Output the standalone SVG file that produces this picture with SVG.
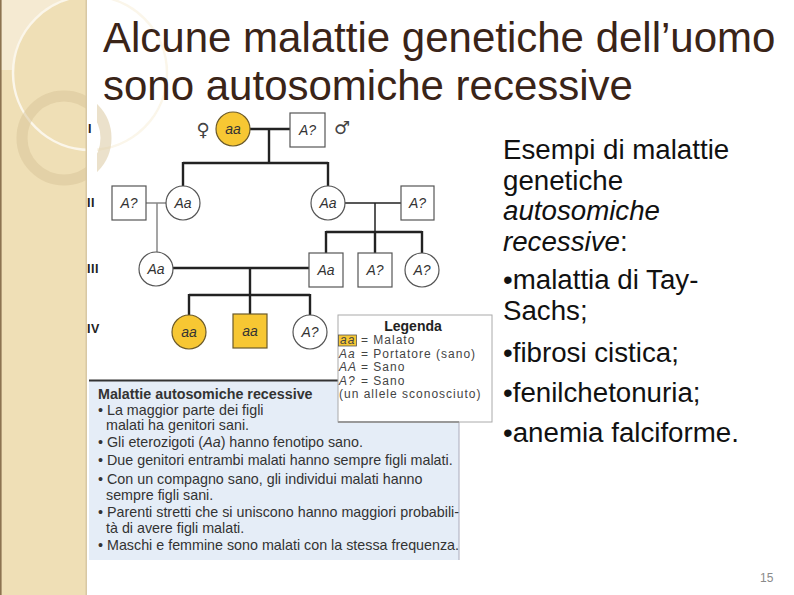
<svg xmlns="http://www.w3.org/2000/svg" width="794" height="595" viewBox="0 0 794 595">
<style>
.sans{font-family:"Liberation Sans",Arial,sans-serif}
.title{font-family:"Liberation Sans",Arial,sans-serif;font-size:42px;fill:#3a2418}
.body{font-family:"Liberation Sans",Arial,sans-serif;font-size:27.7px;fill:#111}
.nd{fill:#fff;stroke:#555;stroke-width:1.2}
.ill{fill:#f7c733;stroke:#6b5a2a;stroke-width:1.2}
.lab{font-family:"Liberation Sans",Arial,sans-serif;font-style:italic;font-size:14px;fill:#333;text-anchor:middle}
.gen{font-family:"Liberation Sans",Arial,sans-serif;font-weight:bold;font-size:12.5px;fill:#222;letter-spacing:0.5px}
.thick{stroke:#222;stroke-width:2.4;fill:none}
.thin{stroke:#222;stroke-width:1.5;fill:none}
.grey{stroke:#888;stroke-width:1.5;fill:none}
.leg{font-family:"Liberation Sans",Arial,sans-serif;font-size:12px;fill:#444;letter-spacing:1px}
.box{font-family:"Liberation Sans",Arial,sans-serif;font-size:14.3px;fill:#333}
</style>
<rect width="794" height="595" fill="#fff"/>
<!-- left decorative band -->
<g id="band">
<rect x="0" y="0" width="87" height="595" fill="#efdfb6"/>
<path d="M0,0 H66 A77,77 0 0 0 13,70 H0 Z" fill="#f5ead2"/>
<path d="M66,0 A77,77 0 0 0 13,70" fill="none" stroke="#d9c6a0" stroke-width="0.8"/>
<circle cx="90" cy="73" r="77" fill="none" stroke="#fbf6ea" stroke-width="2.5"/>
<circle cx="64" cy="138" r="42" fill="none" stroke="#d8c398" stroke-opacity="0.5" stroke-width="11"/>
<rect x="87" y="0" width="10" height="595" fill="#fff"/>
<rect x="0" y="0" width="1.6" height="595" fill="#8c7350"/>
<rect x="85.5" y="0" width="1.5" height="595" fill="#d8c8a4"/>
</g>
<!-- title -->
<text class="title" x="103" y="52">Alcune malattie genetiche dell’uomo</text>
<text class="title" x="103" y="100">sono autosomiche recessive</text>
<!-- generation labels -->
<text class="gen" x="88" y="133">I</text>
<text class="gen" x="87" y="207">II</text>
<text class="gen" x="87" y="273">III</text>
<text class="gen" x="87" y="333">IV</text>
<!-- connectors -->
<g id="connectors">
<path class="thick" d="M250,129 H290"/>
<path class="thick" d="M269,129 V163"/>
<path class="thick" d="M183,163 H328 M183,162 V186 M328,162 V186"/>
<path class="grey" d="M146,203 H166 M157,203 V253"/>
<path class="thin" d="M345,203 H401 M375,203 V232"/>
<path class="thick" d="M326,232 H422 M326,231 V253 M375,231 V253 M422,231 V253"/>
<path class="thick" d="M173,268 H309"/>
<path class="thick" d="M250,268 V295"/>
<path class="thick" d="M189,295 H310 M189,294 V315 M250,294 V314 M310,294 V315"/>
</g>
<!-- generation I -->
<g id="I-1"><circle class="ill" cx="233" cy="129" r="17"/><text class="lab" x="233" y="134">aa</text></g>
<g id="I-2"><rect class="nd" x="290" y="113" width="35" height="34"/><text class="lab" x="307.5" y="135">A?</text></g>
<text x="203" y="136" font-family="DejaVu Sans,sans-serif" font-size="18" fill="#444" text-anchor="middle">♀</text>
<text x="342" y="134" font-family="DejaVu Sans,sans-serif" font-size="18" fill="#444" text-anchor="middle">♂</text>
<!-- generation II -->
<g id="II-1"><rect class="nd" x="112" y="186" width="34" height="34"/><text class="lab" x="129" y="208">A?</text></g>
<g id="II-2"><circle class="nd" cx="183" cy="203" r="17"/><text class="lab" x="183" y="208">Aa</text></g>
<g id="II-3"><circle class="nd" cx="328" cy="203" r="17"/><text class="lab" x="328" y="208">Aa</text></g>
<g id="II-4"><rect class="nd" x="401" y="186" width="33" height="34"/><text class="lab" x="417.5" y="208">A?</text></g>
<!-- generation III -->
<g id="III-1"><circle class="nd" cx="156" cy="269" r="17"/><text class="lab" x="156" y="274">Aa</text></g>
<g id="III-2"><rect class="nd" x="309" y="253" width="34" height="34"/><text class="lab" x="326" y="275">Aa</text></g>
<g id="III-3"><rect class="nd" x="358" y="253" width="34" height="34"/><text class="lab" x="375" y="275">A?</text></g>
<g id="III-4"><circle class="nd" cx="422" cy="270" r="17"/><text class="lab" x="422" y="275">A?</text></g>
<!-- generation IV -->
<g id="IV-1"><circle class="ill" cx="189" cy="332" r="17"/><text class="lab" x="189" y="337">aa</text></g>
<g id="IV-2"><rect class="ill" x="233" y="314" width="34" height="34"/><text class="lab" x="250" y="336">aa</text></g>
<g id="IV-3"><circle class="nd" cx="310" cy="332" r="17"/><text class="lab" x="310" y="337">A?</text></g>
<!-- info box -->
<g id="infobox">
<rect x="89" y="380" width="370" height="180" fill="#e5edf7"/>
<path d="M89,380.5 H338" stroke="#333" stroke-width="2"/>
<path d="M459,421 V560" stroke="#aab" stroke-width="1"/>
<text class="box" x="98" y="398.5" font-weight="bold" fill="#222" font-size="14px">Malattie autosomiche recessive</text>
<text class="box" x="98" y="415">• La maggior parte dei figli</text>
<text class="box" x="106" y="430">malati ha genitori sani.</text>
<text class="box" x="98" y="447">• Gli eterozigoti (<tspan font-style="italic">Aa</tspan>) hanno fenotipo sano.</text>
<text class="box" x="98" y="465">• Due genitori entrambi malati hanno sempre figli malati.</text>
<text class="box" x="98" y="484">• Con un compagno sano, gli individui malati hanno</text>
<text class="box" x="106" y="500">sempre figli sani.</text>
<text class="box" x="98" y="517">• Parenti stretti che si uniscono hanno maggiori probabili-</text>
<text class="box" x="106" y="533">tà di avere figli malati.</text>
<text class="box" x="98" y="550">• Maschi e femmine sono malati con la stessa frequenza.</text>
</g>
<!-- legend -->
<g id="legend">
<rect x="338" y="315" width="154" height="107" fill="#fff" stroke="#aaa" stroke-width="1"/>
<path d="M338,422 H459" stroke="#999" stroke-width="2"/>
<text class="sans" x="413" y="331" font-size="14px" font-weight="bold" fill="#222" text-anchor="middle">Legenda</text>
<rect x="338.5" y="335" width="18" height="11" fill="#f7c733" stroke="#555" stroke-width="0.8"/>
<text class="leg" x="340" y="344" font-style="italic" letter-spacing="0">aa</text>
<text class="leg" x="361" y="344">= Malato</text>
<text class="leg" x="339" y="357.5" font-style="italic" letter-spacing="0">Aa</text>
<text class="leg" x="361" y="357.5">= Portatore (sano)</text>
<text class="leg" x="339" y="371" font-style="italic" letter-spacing="0">AA</text>
<text class="leg" x="361" y="371">= Sano</text>
<text class="leg" x="339" y="384.5" font-style="italic" letter-spacing="0">A?</text>
<text class="leg" x="361" y="384.5">= Sano</text>
<text class="leg" x="339" y="398">(un allele sconosciuto)</text>
</g>
<!-- right text -->
<g id="examples">
<text class="body" x="503" y="159">Esempi di malattie</text>
<text class="body" x="503" y="189.5">genetiche</text>
<text class="body" x="503" y="220" font-style="italic">autosomiche</text>
<text class="body" x="503" y="250.5"><tspan font-style="italic">recessive</tspan>:</text>
<text class="body" x="503" y="289">•malattia di Tay-</text>
<text class="body" x="503" y="320">Sachs;</text>
<text class="body" x="503" y="362">•fibrosi cistica;</text>
<text class="body" x="503" y="402">•fenilchetonuria;</text>
<text class="body" x="503" y="442">•anemia falciforme.</text>
</g>
<text class="sans" x="760" y="582" font-size="12px" fill="#8a8a8a">15</text>
</svg>
